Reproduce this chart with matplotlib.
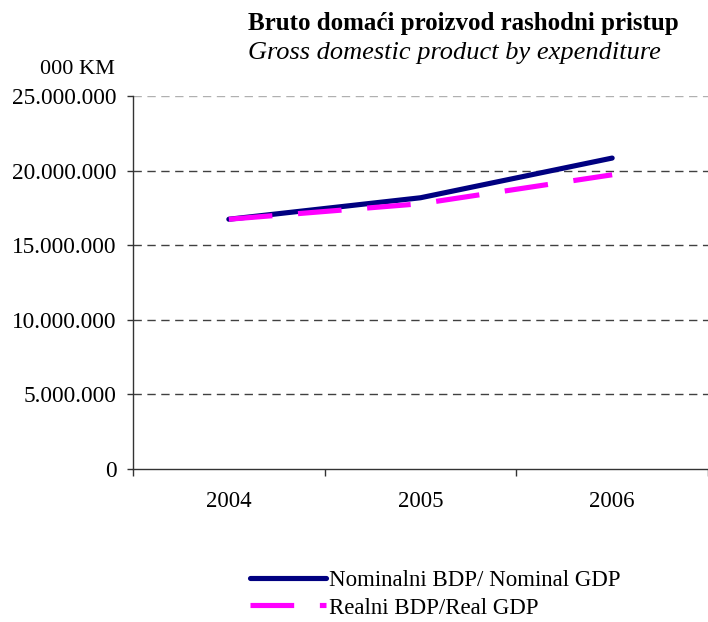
import matplotlib
matplotlib.use("Agg")
import matplotlib.pyplot as plt
from matplotlib.ticker import FuncFormatter, FixedLocator

years = ["2004", "2005", "2006"]
nominal = [16_740_000, 18_180_000, 20_840_000]
real = [16_740_000, 17_780_000, 19_720_000]
yticks = [0, 5_000_000, 10_000_000, 15_000_000, 20_000_000, 25_000_000]

plt.rcParams['font.family'] = ['Liberation Serif', 'DejaVu Serif']

fig = plt.figure(figsize=(7.08, 6.22), dpi=100)
ax = fig.add_axes([133/708, 1-469/622, 1-133/708, (469-96)/622])

x = list(range(len(years)))
ln1, = ax.plot(x, nominal, color='#000080', lw=3.7, solid_capstyle='round',
               label='Nominalni BDP/ Nominal GDP', zorder=3)
ln2, = ax.plot(x, real, color='#FF00FF', lw=3.7, dashes=(8.5, 5), dash_capstyle='butt',
               label='Realni BDP/Real GDP', zorder=4)

ax.set_xlim(-0.5, 2.5)
ax.set_ylim(0, 25_000_000)
ax.set_yticks(yticks)
ax.yaxis.set_major_formatter(FuncFormatter(lambda v, p: f"{int(v):,}".replace(",", ".")))
ax.set_xticks(x)
ax.set_xticklabels(years)
ax.xaxis.set_minor_locator(FixedLocator([-0.5, 0.5, 1.5, 2.5]))
ax.tick_params(axis='x', which='major', length=0, pad=16, labelsize=16.5)
ax.tick_params(axis='x', which='minor', length=5, width=1, color='#333333', direction='out')
ax.tick_params(axis='y', length=4, width=1, color='#333333', pad=8, labelsize=16.8)

for v in yticks[1:]:
    c = '#B0B0B0' if v == 25_000_000 else '#404040'
    ax.axhline(v, color=c, lw=1, dashes=(6, 4), zorder=1)

for s in ['top', 'right']:
    ax.spines[s].set_visible(False)
for s in ['left', 'bottom']:
    ax.spines[s].set_color('#333333')
    ax.spines[s].set_linewidth(1)

fig.text(248/708, 1-30/622, 'Bruto domaći proizvod rashodni pristup', ha='left', va='baseline',
         fontsize=18, fontweight='bold')
fig.text(248/708, 1-59/622, 'Gross domestic product by expenditure', ha='left', va='baseline',
         fontsize=19, style='italic')
fig.text(40/708, 1-74/622, '000 KM', ha='left', va='baseline', fontsize=16)

fig.legend(handles=[ln1, ln2], loc='upper left', bbox_to_anchor=(250/708, 1-570/622),
           frameon=False, fontsize=16.5, handlelength=3.3, handletextpad=0.15,
           labelspacing=0.28, borderpad=0, borderaxespad=0)

fig.savefig('out.png', dpi=100)
